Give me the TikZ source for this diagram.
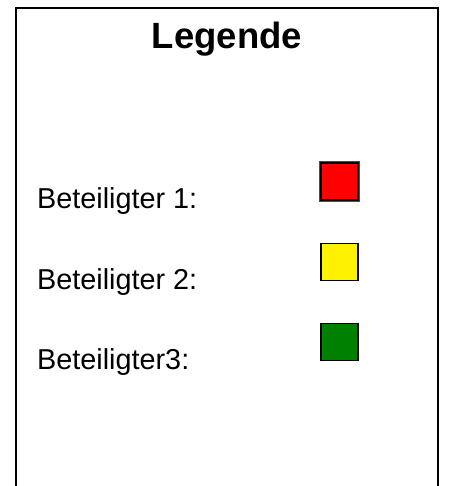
\documentclass[tikz,border=0pt]{standalone}
\usepackage{fontspec}
\setmainfont{Liberation Sans}
\definecolor{vert}{RGB}{0,128,0}
\begin{document}
\begin{tikzpicture}[x=1pt,y=-1pt]
% Styles
\tikzstyle{cadre}=[draw=black,line width=2pt]
\tikzstyle{titre}=[anchor=base,inner sep=0pt,font=\fontsize{36.5}{40}\selectfont\bfseries]
\tikzstyle{etiquette}=[anchor=base west,inner sep=0pt,font=\fontsize{28.8}{32}\selectfont]
\tikzstyle{carre}=[draw=black,line width=1.5pt,minimum size=37pt,inner sep=0pt]
% Dimensions
\def\ColonneTexte{37}
\def\ColonneCarre{339.5}
\def\DecalageCarre{-27}
\useasboundingbox (0,0) rectangle (448,486);
\clip (0,0) rectangle (448,486);
% Cadre
\draw[cadre] (16,8.5) rectangle (438,500);
% Noeuds
\node[titre] (Titre) at (227,49) {Legende};
\node[etiquette] (B1) at (\ColonneTexte,208) {Beteiligter 1:};
\node[etiquette] (B2) at (\ColonneTexte,289) {Beteiligter 2:};
\node[etiquette] (B3) at (\ColonneTexte,369) {Beteiligter3:};
\node[carre,fill=red,preaction={draw=red,line width=4pt}] (C1) at (\ColonneCarre,181.5) {};
\node[carre,fill=yellow] (C2) at (\ColonneCarre,262) {};
\node[carre,fill=vert] (C3) at (\ColonneCarre,342) {};
\end{tikzpicture}
\end{document}
